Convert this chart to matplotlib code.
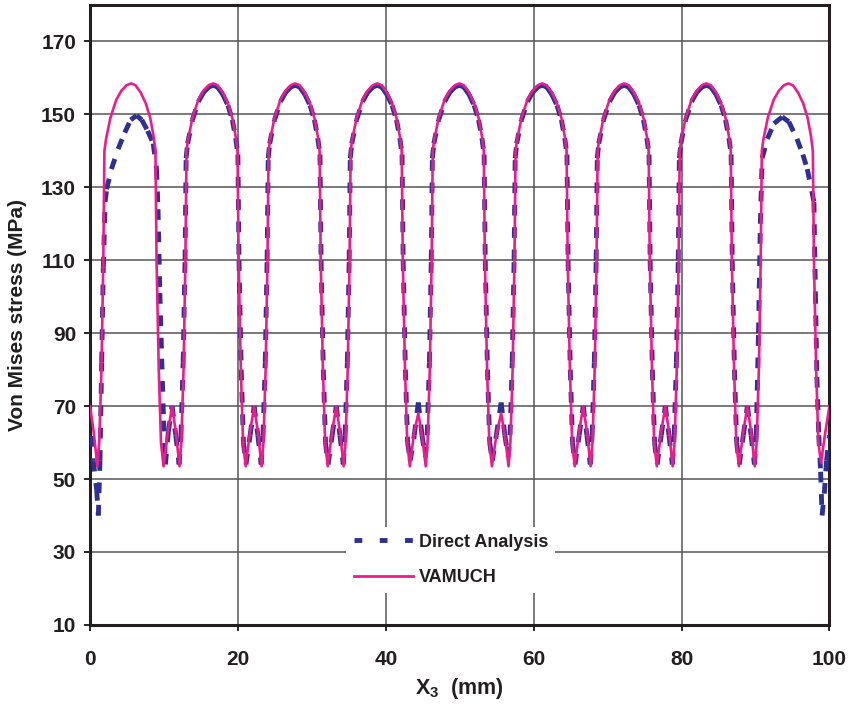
import matplotlib
matplotlib.use("Agg")
import matplotlib.pyplot as plt
from matplotlib.lines import Line2D

plt.rcParams['font.family'] = ['Liberation Sans', 'DejaVu Sans']
plt.rcParams['font.weight'] = 'bold'
plt.rcParams['axes.labelweight'] = 'bold'
plt.rcParams['mathtext.fontset'] = 'custom'
plt.rcParams['mathtext.rm'] = 'Liberation Sans:bold'
plt.rcParams['mathtext.bf'] = 'Liberation Sans:bold'

#VAMUCH curve
vamuch_x = [
    0, 0.5, 1.0, 1.25, 1.55, 1.8, 1.95, 2.15, 2.75, 3.55, 4.25, 4.95, 5.55, 6.15, 6.85, 7.55, 8.15, 8.6, 8.85, 9.0, 9.3, 9.6, 9.95, 10.55,
    11.1, 11.6, 12.1, 12.35, 12.65, 12.9, 13.05, 13.25, 13.85, 14.65, 15.35, 16.05, 16.65, 17.25, 17.95, 18.65, 19.25, 19.7, 19.95, 20.1, 20.4, 20.7, 21.05, 21.65,
    22.2, 22.7, 23.2, 23.45, 23.75, 24.0, 24.15, 24.35, 24.95, 25.75, 26.45, 27.15, 27.75, 28.35, 29.05, 29.75, 30.35, 30.8, 31.05, 31.2, 31.5, 31.8, 32.15, 32.75,
    33.3, 33.8, 34.3, 34.55, 34.85, 35.1, 35.25, 35.45, 36.05, 36.85, 37.55, 38.25, 38.85, 39.45, 40.15, 40.85, 41.45, 41.9, 42.15, 42.3, 42.6, 42.9, 43.25, 43.85,
    44.4, 44.9, 45.4, 45.65, 45.95, 46.2, 46.35, 46.55, 47.15, 47.95, 48.65, 49.35, 49.95, 50.55, 51.25, 51.95, 52.55, 53.0, 53.25, 53.4, 53.7, 54.0, 54.35, 54.95,
    55.6, 56.1, 56.6, 56.85, 57.15, 57.4, 57.55, 57.75, 58.35, 59.15, 59.85, 60.55, 61.15, 61.75, 62.45, 63.15, 63.75, 64.2, 64.45, 64.6, 64.9, 65.2, 65.55, 66.15,
    66.7, 67.2, 67.7, 67.95, 68.25, 68.5, 68.65, 68.85, 69.45, 70.25, 70.95, 71.65, 72.25, 72.85, 73.55, 74.25, 74.85, 75.3, 75.55, 75.7, 76.0, 76.3, 76.65, 77.25,
    77.8, 78.3, 78.8, 79.05, 79.35, 79.6, 79.75, 79.95, 80.55, 81.35, 82.05, 82.75, 83.35, 83.95, 84.65, 85.35, 85.95, 86.4, 86.65, 86.8, 87.1, 87.4, 87.75, 88.35,
    88.9, 89.4, 89.9, 90.15, 90.45, 90.7, 90.85, 91.05, 91.65, 92.45, 93.15, 93.85, 94.45, 95.05, 95.75, 96.45, 97.05, 97.5, 97.75, 97.9, 98.2, 98.5, 98.85, 99.45,
    100]
vamuch_y = [
    70, 63, 53.5, 60, 80, 110, 140, 143, 149, 154, 156.5, 158, 158.5, 158, 156, 153, 149, 144, 140, 110, 80, 60, 53.5, 63,
    70, 63, 53.5, 60, 80, 110, 140, 143, 149, 154, 156.5, 158, 158.5, 158, 156, 153, 149, 144, 140, 110, 80, 60, 53.5, 63,
    70, 63, 53.5, 60, 80, 110, 140, 143, 149, 154, 156.5, 158, 158.5, 158, 156, 153, 149, 144, 140, 110, 80, 60, 53.5, 63,
    70, 63, 53.5, 60, 80, 110, 140, 143, 149, 154, 156.5, 158, 158.5, 158, 156, 153, 149, 144, 140, 110, 80, 60, 53.5, 63,
    68, 62, 53.5, 60, 80, 110, 140, 143, 149, 154, 156.5, 158, 158.5, 158, 156, 153, 149, 144, 140, 110, 80, 60, 53.5, 62,
    68, 62, 53.5, 60, 80, 110, 140, 143, 149, 154, 156.5, 158, 158.5, 158, 156, 153, 149, 144, 140, 110, 80, 60, 53.5, 63,
    70, 63, 53.5, 60, 80, 110, 140, 143, 149, 154, 156.5, 158, 158.5, 158, 156, 153, 149, 144, 140, 110, 80, 60, 53.5, 63,
    70, 63, 53.5, 60, 80, 110, 140, 143, 149, 154, 156.5, 158, 158.5, 158, 156, 153, 149, 144, 140, 110, 80, 60, 53.5, 63,
    70, 63, 53.5, 60, 80, 110, 140, 143, 149, 154, 156.5, 158, 158.5, 158, 156, 153, 149, 144, 140, 110, 80, 60, 54.5, 63,
    70]

#Direct Analysis curve
direct_x = [
    0, 0.25, 0.45, 0.9, 1.13, 1.35, 1.58, 1.8, 2.05, 2.25, 2.9, 3.8, 4.7, 5.5, 6.3, 7.0, 7.8, 8.55, 9.0, 9.2, 9.45, 9.7, 9.95, 10.2, 10.6,
    11.1, 11.6, 12.05, 12.3, 12.6, 12.85, 13.0, 13.2, 13.85, 14.65, 15.35, 16.05, 16.65, 17.25, 17.95, 18.65, 19.25, 19.7, 20.0, 20.15, 20.45, 20.75, 21.1, 21.65,
    22.2, 22.7, 23.15, 23.4, 23.7, 23.95, 24.1, 24.3, 24.95, 25.75, 26.45, 27.15, 27.75, 28.35, 29.05, 29.75, 30.35, 30.8, 31.1, 31.25, 31.55, 31.85, 32.2, 32.75,
    33.3, 33.8, 34.25, 34.5, 34.8, 35.05, 35.2, 35.4, 36.05, 36.85, 37.55, 38.25, 38.85, 39.45, 40.15, 40.85, 41.45, 41.9, 42.2, 42.35, 42.65, 42.95, 43.3, 43.85,
    44.4, 44.9, 45.35, 45.6, 45.9, 46.15, 46.3, 46.5, 47.15, 47.95, 48.65, 49.35, 49.95, 50.55, 51.25, 51.95, 52.55, 53.0, 53.3, 53.45, 53.75, 54.05, 54.4, 54.95,
    55.6, 56.1, 56.55, 56.8, 57.1, 57.35, 57.5, 57.7, 58.35, 59.15, 59.85, 60.55, 61.15, 61.75, 62.45, 63.15, 63.75, 64.2, 64.5, 64.65, 64.95, 65.25, 65.6, 66.15,
    66.7, 67.2, 67.65, 67.9, 68.2, 68.45, 68.6, 68.8, 69.45, 70.25, 70.95, 71.65, 72.25, 72.85, 73.55, 74.25, 74.85, 75.3, 75.6, 75.75, 76.05, 76.35, 76.7, 77.25,
    77.8, 78.3, 78.75, 79.0, 79.3, 79.55, 79.7, 79.9, 80.55, 81.35, 82.05, 82.75, 83.35, 83.95, 84.65, 85.35, 85.95, 86.4, 86.7, 86.85, 87.15, 87.45, 87.8, 88.35,
    88.9, 89.4, 89.85, 90.1, 90.4, 90.65, 90.9, 91.6, 92.5, 93.6, 94.5, 95.6, 96.4, 97.0, 97.9, 98.1, 98.3, 98.55, 98.8, 99.0, 99.3, 99.6, 100]
direct_y = [
    61, 61.8, 55, 47, 40, 55, 82, 108, 126, 129.5, 135, 140.5, 145, 148.5, 149.7, 148.5, 145.5, 142, 135, 124, 101, 83, 66, 54, 63,
    70, 62, 54, 62, 82, 110, 138, 142, 148.5, 153.5, 156, 157.5, 158, 157.5, 155.5, 152.5, 148.5, 143.5, 139, 110, 80, 60, 54, 62,
    70, 62, 54, 62, 82, 110, 138, 142, 148.5, 153.5, 156, 157.5, 158, 157.5, 155.5, 152.5, 148.5, 143.5, 139, 110, 80, 60, 54, 62,
    70, 62, 54, 62, 82, 110, 138, 142, 148.5, 153.5, 156, 157.5, 158, 157.5, 155.5, 152.5, 148.5, 143.5, 139, 110, 80, 60, 55, 62,
    71, 62, 56, 62, 82, 110, 138, 142, 148.5, 153.5, 156, 157.5, 158, 157.5, 155.5, 152.5, 148.5, 143.5, 139, 110, 80, 60, 55, 62,
    71, 62, 56, 62, 82, 110, 138, 142, 148.5, 153.5, 156, 157.5, 158, 157.5, 155.5, 152.5, 148.5, 143.5, 139, 110, 80, 60, 54, 62,
    70, 62, 54, 62, 82, 110, 138, 142, 148.5, 153.5, 156, 157.5, 158, 157.5, 155.5, 152.5, 148.5, 143.5, 139, 110, 80, 60, 54, 62,
    70, 62, 54, 62, 82, 110, 138, 142, 148.5, 153.5, 156, 157.5, 158, 157.5, 155.5, 152.5, 148.5, 143.5, 139, 110, 80, 60, 54, 62,
    70, 62, 54, 62, 90, 120, 138, 143.3, 147.5, 149.3, 148, 143.3, 139, 135, 126, 101, 78, 62, 52, 40, 46, 55, 62]

x_ticks = [0, 20, 40, 60, 80, 100]
y_ticks = [10, 30, 50, 70, 90, 110, 130, 150, 170]

blue = '#2E3192'
pink = '#EC1C8E'

fig = plt.figure(figsize=(8.49, 7.15), dpi=100)
ax = fig.add_axes([0.106, 0.126, 0.871, 0.867])

#excel style dashes: every segment restarts the dash pattern
for i in range(len(direct_x) - 1):
    ax.plot(direct_x[i:i+2], direct_y[i:i+2], color=blue, lw=3.5,
            linestyle=(0, (2.2, 2.4)), dash_capstyle='butt', zorder=3)

ax.plot(vamuch_x, vamuch_y, color=pink, lw=1.9, zorder=4)

ax.set_xlim(0, 100)
ax.set_ylim(10, 180)
ax.set_xticks(x_ticks)
ax.set_yticks(y_ticks)
ax.grid(True, color='#555555', lw=1.1)
ax.set_axisbelow(True)
for s in ax.spines.values():
    s.set_linewidth(2.2)
    s.set_color('#231F20')
ax.tick_params(direction='out', length=4, width=1.2, labelsize=15,
               labelcolor='#231F20')
ax.tick_params(axis='x', pad=14)
ax.tick_params(axis='y', pad=6)

ax.set_ylabel('Von Mises stress (MPa)', fontsize=15, color='#231F20', labelpad=10)
ax.set_xlabel(r'X$_{3}$  (mm)', fontsize=15.5, color='#231F20', labelpad=5)

handles = [Line2D([], [], color=blue, lw=3.5, linestyle=(0, (1.6, 3.6)), dash_capstyle='butt'),
           Line2D([], [], color=pink, lw=2)]
leg = ax.legend(handles, ['Direct Analysis', 'VAMUCH'], loc='center',
                bbox_to_anchor=(0.488, 0.105), frameon=True, fancybox=False,
                facecolor='white', edgecolor='none', framealpha=1,
                fontsize=13, handlelength=3.3, labelspacing=1.0, handletextpad=0.3)
for t in leg.get_texts():
    t.set_color('#231F20')

fig.savefig('out.png', dpi=100)
